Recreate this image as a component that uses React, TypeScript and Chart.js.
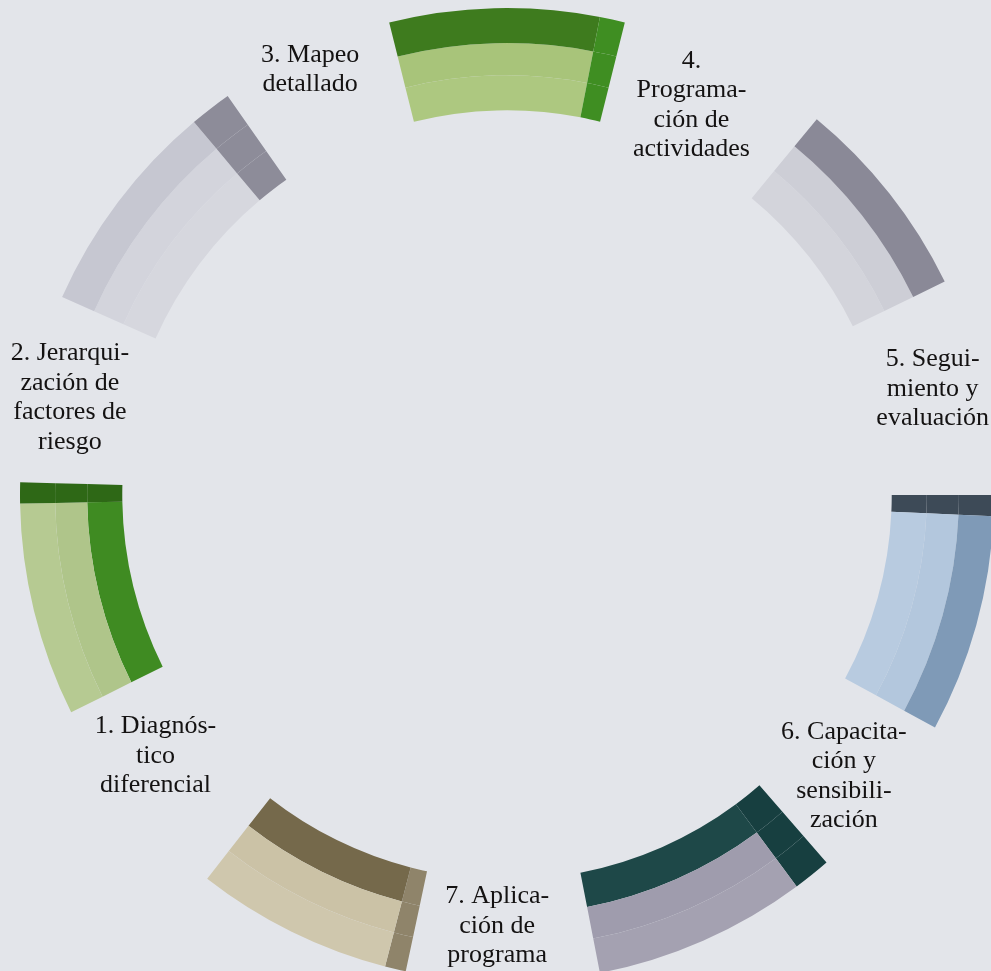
import React, { useEffect, useRef } from "react";
import { Chart, registerables } from "chart.js";

Chart.register(...registerables);

// Step texts (step 1..7), each as its printed lines
const stepLabels: string[][] = [
  ["1. Diagnós-", "tico", "diferencial"],
  ["2. Jerarqui-", "zación de", "factores de", "riesgo"],
  ["3. Mapeo", "detallado"],
  ["4.", "Programa-", "ción de", "actividades"],
  ["5. Segui-", "miento y", "evaluación"],
  ["6. Capacita-", "ción y", "sensibili-", "zación"],
  ["7. Aplica-", "ción de", "programa"],
];

// Blocks in clockwise order starting with the block at the top (degrees)
const blockArc = [25, 24.5, 26, 25.5, 23.5, 25.5, 26];
const leadCapArc = [0, 0, 2.5, 4.5, 2.5, 0, 0];
const trailCapArc = [3, 0, 0, 0, 0, 2.5, 5];
// Gap that follows each block, and the step written inside that gap
const gapArc = [25.5, 26, 20.5, 23, 25.5, 22.5, 21];
const gapStep = [4, 5, 6, 7, 1, 2, 3];
const firstBlockStart = -14;

// Styles: [outer band, middle band, inner band] and end-cap colour per block
const bandColors: string[][] = [
  ["#3e7b1e", "#a8c47a", "#adc880"],
  ["#8a8997", "#cdced6", "#d3d4db"],
  ["#7f9ab7", "#b3c7dd", "#b8cbe0"],
  ["#a4a1b1", "#9f9cad", "#1e4848"],
  ["#cfc7ad", "#cbc2a6", "#75694b"],
  ["#b6ca92", "#afc58a", "#3f8b22"],
  ["#c6c7d1", "#d3d4dc", "#d6d7de"],
];
const capColors = ["#3f8e22", "#8a8997", "#3d4a57", "#173f40", "#8f846a", "#2e6816", "#8d8c99"];
const bandWeights = [35, 32, 35];
// small layout nudges for the label blocks (px), per gap
const labelNudge: number[][] = [
  [-14, 4],
  [-4, -7],
  [-7, 5],
  [-6, -10],
  [-10, -18],
  [-7, 0],
  [-14, -24],
];

const sliceValues: number[] = [];
const sliceNames: string[] = [];
blockArc.forEach((arc, i) => {
  sliceValues.push(leadCapArc[i], arc, trailCapArc[i], gapArc[i]);
  sliceNames.push(`b${i}-lead`, `b${i}`, `b${i}-trail`, `gap${i}`);
});

function bandColorList(band: number): string[] {
  const out: string[] = [];
  blockArc.forEach((_, i) => {
    out.push(capColors[i], bandColors[i][band], capColors[i], "rgba(0,0,0,0)");
  });
  return out;
}

const labelPlugin = {
  id: "stepLabels",
  afterDraw(chart: any) {
    const outerMeta = chart.getDatasetMeta(0);
    const innerMeta = chart.getDatasetMeta(bandWeights.length - 1);
    const ctx = chart.ctx;
    ctx.save();
    ctx.font = '26px "Liberation Serif", "Times New Roman", serif';
    ctx.fillStyle = "#141212";
    ctx.textAlign = "center";
    ctx.textBaseline = "middle";
    const lineH = 29.5;
    gapStep.forEach((step, i) => {
      const el = outerMeta.data[i * 4 + 3];
      const inEl = innerMeta.data[i * 4 + 3];
      if (!el || !inEl) return;
      const p = el.getProps(["x", "y", "startAngle", "endAngle", "outerRadius"], true);
      const q = inEl.getProps(["innerRadius"], true);
      const a = (p.startAngle + p.endAngle) / 2;
      const r = q.innerRadius + 0.55 * (p.outerRadius - q.innerRadius);
      const cx = p.x + r * Math.cos(a) + labelNudge[i][0];
      const cy = p.y + r * Math.sin(a) + labelNudge[i][1];
      const lines = stepLabels[step - 1];
      const top = cy - ((lines.length - 1) * lineH) / 2;
      lines.forEach((t, k) => ctx.fillText(t, cx, top + k * lineH));
    });
    ctx.restore();
  },
};

export default function App() {
  const ref = useRef<HTMLCanvasElement | null>(null);
  useEffect(() => {
    if (!ref.current) return;
    const chart = new Chart(ref.current, {
      type: "doughnut",
      data: {
        labels: sliceNames,
        datasets: bandWeights.map((w, b) => ({
          data: sliceValues,
          backgroundColor: bandColorList(b),
          borderWidth: 0,
          weight: w,
          hoverOffset: 0,
          offset: 0,
        })),
      },
      options: {
        responsive: false,
        animation: false,
        events: [],
        rotation: firstBlockStart,
        cutout: "79%",
        layout: { padding: { left: 20, right: 20, top: 8, bottom: 8 } },
        plugins: { legend: { display: false }, tooltip: { enabled: false } },
      } as any,
      plugins: [labelPlugin],
    });
    return () => chart.destroy();
  }, []);
  return (
    <div
      style={{
        position: "fixed",
        left: 0,
        top: 0,
        width: 991,
        height: 971,
        overflow: "hidden",
        background: "#e3e5ea",
      }}
    >
      <canvas ref={ref} width={1014} height={990} style={{ display: "block", width: 1014, height: 990 }} />
    </div>
  );
}
